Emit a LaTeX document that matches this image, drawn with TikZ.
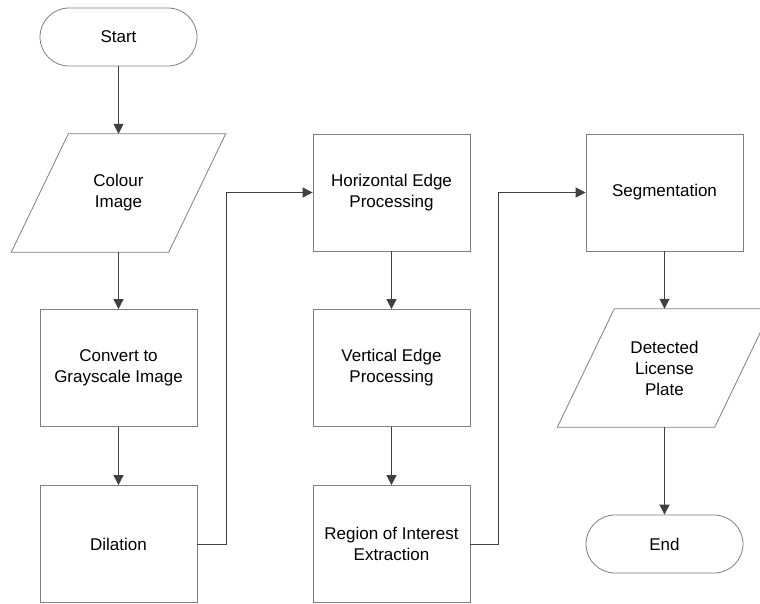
\documentclass[tikz,border=0pt]{standalone}
\usepackage{fontspec}
\setmainfont{Liberation Sans}
\usetikzlibrary{shapes,arrows,positioning,calc,arrows.meta}

\begin{document}
\begin{tikzpicture}[x=1pt, y=-1pt,
    font=\fontsize{17}{21}\selectfont,
    process/.style={draw=black!50, line width=0.8pt, minimum width=157pt, minimum height=117pt, align=center},
    terminal/.style={draw=black!50, line width=0.8pt, rounded corners=29pt, minimum width=157pt, minimum height=58pt},
    io/.style={minimum width=157pt, minimum height=118pt, align=center},
    flow/.style={draw=black!75, line width=0.8pt, -{Triangle[length=10pt,width=10pt]}}]
    \useasboundingbox (0,0) rectangle (760,603);

    % first column
    \node[terminal] (start) at (118.5,37) {Start};
    \node[io] (colour) at (118.5,193) {Colour\\Image};
    \node[process] (gray) at (118.5,368) {Convert to\\Grayscale Image};
    \node[process] (dilation) at (118.5,544) {Dilation};

    % second column
    \node[process] (hedge) at (391.5,192.5) {Horizontal Edge\\Processing};
    \node[process] (vedge) at (391.5,368) {Vertical Edge\\Processing};
    \node[process] (roi) at (391.5,544) {Region of Interest\\Extraction};

    % third column
    \node[process] (seg) at (664.5,192.5) {Segmentation};
    \node[io] (plate) at (664.5,368) {Detected\\License\\Plate};
    \node[terminal] (end) at (664.5,544) {End};

    % slanted outline of the input/output nodes
    \foreach \n in {colour,plate}
        \draw[black!50, line width=0.8pt] ($(\n.south west)+(-28.5,0)$) -- ($(\n.south east)+(-28.5,0)$)
            -- ($(\n.north east)+(28.5,0)$) -- ($(\n.north west)+(28.5,0)$) -- cycle;

    % connectors
    \draw[flow] (start) -- (colour);
    \draw[flow] (colour) -- (gray);
    \draw[flow] (gray) -- (dilation);
    \draw[flow] (dilation.east) -- ++(29,0) |- (hedge.west);
    \draw[flow] (hedge) -- (vedge);
    \draw[flow] (vedge) -- (roi);
    \draw[flow] (roi.east) -- ++(28,0) |- (seg.west);
    \draw[flow] (seg) -- (plate);
    \draw[flow] (plate) -- (end);
\end{tikzpicture}
\end{document}
